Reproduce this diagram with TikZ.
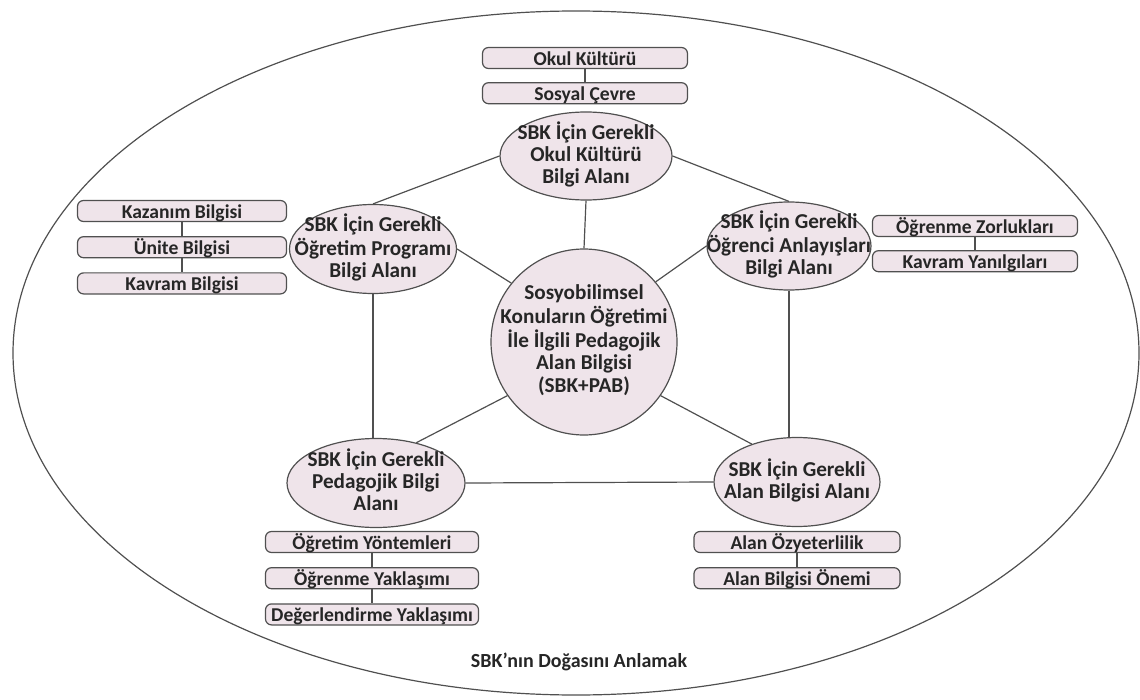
\documentclass[tikz,border=0pt]{standalone}
\usepackage{fontspec}
\setmainfont{Carlito}
\usetikzlibrary{positioning,shapes.geometric}
\definecolor{areafill}{HTML}{EFE4EA}
\definecolor{edgegray}{HTML}{505050}
\newcommand{\inside}[1]{\smash{\makebox[0pt]{\raisebox{-0.5ex}{\begin{tabular}{@{}c@{}}#1\end{tabular}}}}}

\tikzset{
	area/.style={ellipse, draw=edgegray, fill=areafill, line width=0.6pt, inner sep=0pt, text=black!85, font=\bfseries\fontsize{10.6}{11}\selectfont},
	topic/.style={rectangle, rounded corners=3pt, draw=edgegray, fill=areafill, line width=0.6pt, minimum width=#1, minimum height=10.5pt, inner xsep=1pt, inner ysep=0pt, text height=8.8pt, text depth=1.7pt, text=black!85, font=\bfseries\fontsize{9.8}{11}\selectfont},
	topic/.default=104pt,
	link/.style={draw=edgegray, line width=0.6pt}
}

\begin{document}
\begin{tikzpicture}[x=0.5pt, y=-0.5pt]
	\useasboundingbox (0,0) rectangle (1140,700);
	\draw[link] (576,353) ellipse [x radius=563, y radius=342];

	% knowledge areas
	\node[area, minimum width=86pt, minimum height=44pt] (okul) at (586,156) {\inside{SBK İçin Gerekli\\Okul Kültürü\\Bilgi Alanı}};
	\node[area, minimum width=83.5pt, minimum height=44.5pt] (prog) at (373,249) {\inside{SBK İçin Gerekli\\Öğretim Programı\\Bilgi Alanı}};
	\node[area, minimum width=82pt, minimum height=44pt] (ogrenci) at (789,246) {\inside{SBK İçin Gerekli\\Öğrenci Anlayışları\\Bilgi Alanı}};
	\node[area, circle, minimum size=93pt] (pab) at (584,342) {\inside{Sosyobilimsel\\Konuların Öğretimi\\İle İlgili Pedagojik\\Alan Bilgisi\\(SBK+PAB)}};
	\node[area, minimum width=89pt, minimum height=44.5pt] (ped) at (376,483) {\inside{SBK İçin Gerekli\\Pedagojik Bilgi\\Alanı}};
	\node[area, minimum width=83pt, minimum height=44.5pt] (alan) at (797,482) {\inside{SBK İçin Gerekli\\Alan Bilgisi Alanı}};

	% components
	\node[topic=102.5pt] (kultur) at (585,58) {Okul Kültürü};
	\node[topic=102.5pt, below=6.5pt of kultur] (cevre) {Sosyal Çevre};

	\node[topic=104.5pt] (kazanim) at (182,211) {Kazanım Bilgisi};
	\node[topic=104.5pt, below=7pt of kazanim] (unite) {Ünite Bilgisi};
	\node[topic=104.5pt, below=7pt of unite] (kavram) {Kavram Bilgisi};

	\node[topic=102.5pt] (zorluk) at (975,226) {Öğrenme Zorlukları};
	\node[topic=102.5pt, below=6.5pt of zorluk] (yanilgi) {Kavram Yanılgıları};

	\node[topic=106.5pt] (yontem) at (372,542) {Öğretim Yöntemleri};
	\node[topic=106.5pt, below=7pt of yontem] (yaklasim) {Öğrenme Yaklaşımı};
	\node[topic=106.5pt, below=7pt of yaklasim] (deger) {Değerlendirme Yaklaşımı};

	\node[topic=103pt] (ozyet) at (797,542) {Alan Özyeterlilik};
	\node[topic=103pt, below=7pt of ozyet] (onem) {Alan Bilgisi Önemi};

	\node[text=black!85, font=\bfseries\fontsize{10}{11}\selectfont] (doga) at (579,662) {SBK’nın Doğasını Anlamak};

	% connections
	\draw[link] (okul.west) -- (prog.north);
	\draw[link] (okul.east) -- (ogrenci.north);
	\draw[link] (okul.south) -- (pab.north);
	\draw[link] (prog.east) -- (pab.141);
	\draw[link] (ogrenci.west) -- (pab.40);
	\draw[link] (prog.south) -- (prog.south |- ped.north);
	\draw[link] (ogrenci.south) -- (ogrenci.south |- alan.north);
	\draw[link] (ped.45) -- (pab.215);
	\draw[link] (alan.140) -- (pab.325);
	\draw[link] (ped.east) -- (alan.west);

	\draw[link] (kultur) -- (cevre);
	\draw[link] (kazanim) -- (unite);
	\draw[link] (unite) -- (kavram);
	\draw[link] (zorluk) -- (yanilgi);
	\draw[link] (yontem) -- (yaklasim);
	\draw[link] (yaklasim) -- (deger);
	\draw[link] (ozyet) -- (onem);
\end{tikzpicture}
\end{document}
